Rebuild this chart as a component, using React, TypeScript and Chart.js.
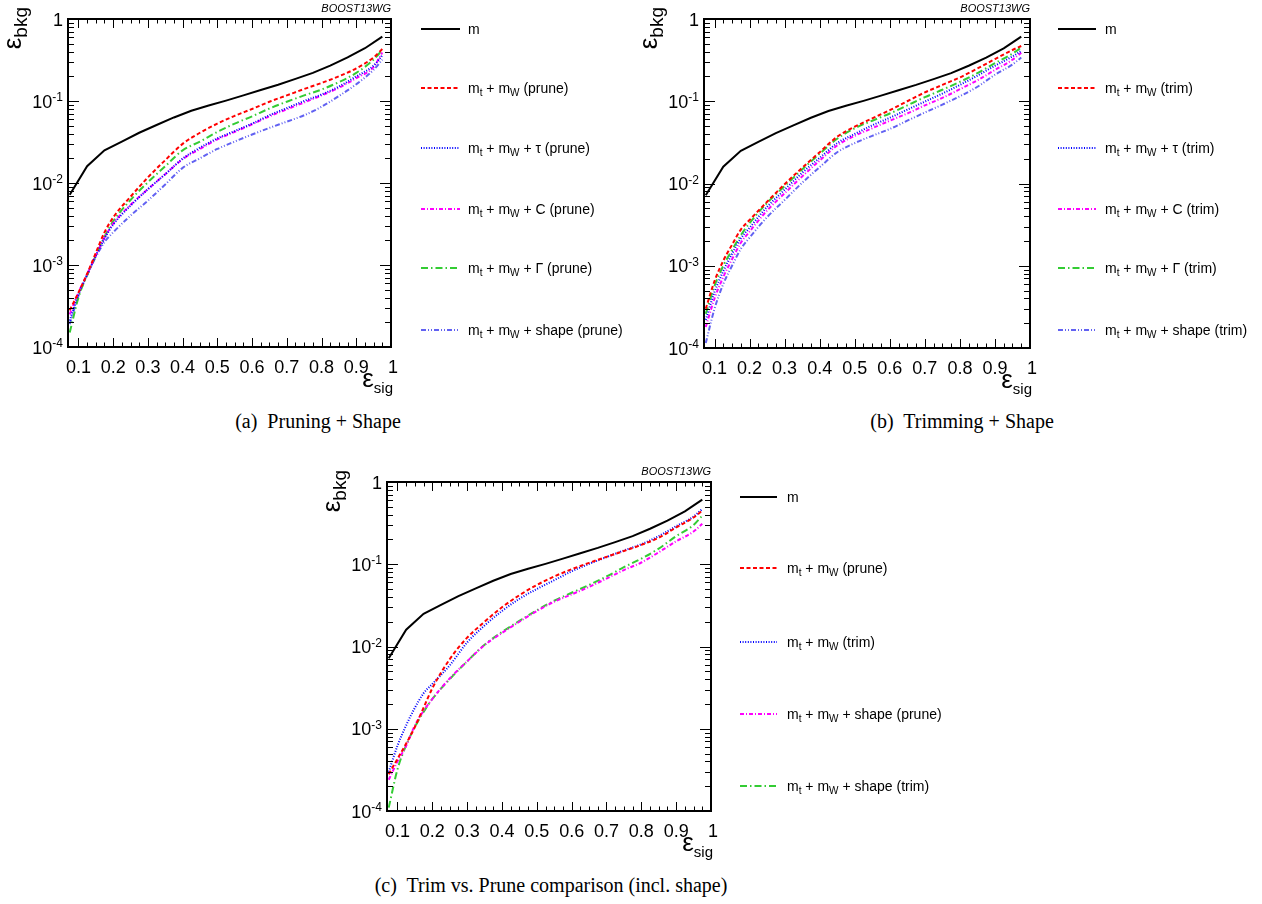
import React, { useEffect, useRef } from "react";
import { Chart, registerables } from "chart.js";
Chart.register(...registerables);

// ---------------- data ----------------
const xMass = [0.075, 0.125, 0.175, 0.225, 0.275, 0.325, 0.375, 0.425, 0.475, 0.525, 0.575, 0.625, 0.675, 0.725, 0.775, 0.825, 0.875, 0.925, 0.975];
const yMass = [0.0072, 0.016, 0.025, 0.032, 0.041, 0.051, 0.063, 0.076, 0.088, 0.101, 0.117, 0.136, 0.158, 0.186, 0.22, 0.27, 0.34, 0.44, 0.61];

const xCurve = [0.075, 0.1, 0.125, 0.15, 0.175, 0.2, 0.25, 0.3, 0.35, 0.4, 0.45, 0.5, 0.55, 0.6, 0.65, 0.7, 0.75, 0.8, 0.85, 0.9, 0.95, 0.975];

// (a) pruning
const aPrune = [2.8e-4, 4.6e-4, 7.8e-4, 1.4e-3, 2.5e-3, 3.8e-3, 6.8e-3, 0.0117, 0.019, 0.030, 0.041, 0.053, 0.066, 0.080, 0.098, 0.117, 0.14, 0.166, 0.20, 0.25, 0.34, 0.43];
const aTau = [2.1e-4, 4.4e-4, 7.6e-4, 1.3e-3, 2.1e-3, 3.1e-3, 5.3e-3, 8.4e-3, 0.0128, 0.0198, 0.027, 0.035, 0.043, 0.053, 0.067, 0.082, 0.10, 0.12, 0.15, 0.20, 0.27, 0.36];
const aC = [2.5e-4, 4.6e-4, 7.7e-4, 1.3e-3, 2.15e-3, 3.2e-3, 5.4e-3, 8.4e-3, 0.0128, 0.0195, 0.026, 0.034, 0.042, 0.052, 0.065, 0.079, 0.096, 0.117, 0.145, 0.19, 0.26, 0.39];
const aGamma = [1.5e-4, 4.0e-4, 7.5e-4, 1.3e-3, 2.2e-3, 3.4e-3, 6.2e-3, 0.0102, 0.016, 0.025, 0.032, 0.042, 0.053, 0.065, 0.081, 0.098, 0.117, 0.138, 0.17, 0.22, 0.32, 0.42];
const aShape = [1.9e-4, 4.2e-4, 7.5e-4, 1.25e-3, 1.9e-3, 2.5e-3, 4.0e-3, 6.1e-3, 9.6e-3, 0.0153, 0.020, 0.026, 0.032, 0.039, 0.047, 0.056, 0.067, 0.085, 0.115, 0.16, 0.24, 0.32];

// (b) trimming
const bTrim = [3.0e-4, 6.5e-4, 1.15e-3, 1.8e-3, 2.75e-3, 3.6e-3, 6.0e-3, 9.8e-3, 0.0155, 0.024, 0.037, 0.049, 0.062, 0.078, 0.10, 0.128, 0.158, 0.195, 0.25, 0.326, 0.42, 0.47];
const bTau = [2.2e-4, 4.8e-4, 8.6e-4, 1.4e-3, 2.15e-3, 2.9e-3, 5.2e-3, 8.4e-3, 0.0135, 0.0205, 0.031, 0.040, 0.051, 0.063, 0.079, 0.099, 0.124, 0.158, 0.205, 0.27, 0.35, 0.41];
const bC = [1.8e-4, 4.0e-4, 7.3e-4, 1.2e-3, 1.9e-3, 2.6e-3, 4.7e-3, 7.6e-3, 0.0122, 0.019, 0.029, 0.038, 0.047, 0.058, 0.071, 0.089, 0.110, 0.140, 0.18, 0.24, 0.32, 0.39];
const bGamma = [2.6e-4, 5.7e-4, 1.0e-3, 1.55e-3, 2.35e-3, 3.3e-3, 5.8e-3, 9.3e-3, 0.0148, 0.023, 0.035, 0.047, 0.058, 0.071, 0.089, 0.112, 0.138, 0.172, 0.22, 0.29, 0.38, 0.45];
const bShape = [1.15e-4, 3.0e-4, 6.0e-4, 1.0e-3, 1.6e-3, 2.2e-3, 3.9e-3, 6.3e-3, 0.0102, 0.0158, 0.024, 0.031, 0.038, 0.046, 0.058, 0.073, 0.091, 0.115, 0.15, 0.21, 0.28, 0.34];

// (c) comparison
const cPrune = [2.8e-4, 4.3e-4, 6.6e-4, 1.05e-3, 1.8e-3, 3.1e-3, 7.0e-3, 0.0128, 0.020, 0.030, 0.042, 0.056, 0.071, 0.087, 0.104, 0.123, 0.145, 0.172, 0.21, 0.28, 0.37, 0.45];
const cTrim = [3.0e-4, 6.2e-4, 1.1e-3, 1.8e-3, 2.7e-3, 3.5e-3, 5.9e-3, 0.0112, 0.018, 0.027, 0.038, 0.050, 0.064, 0.082, 0.101, 0.122, 0.147, 0.175, 0.22, 0.29, 0.38, 0.47];
const cShapePrune = [2.4e-4, 4.0e-4, 6.2e-4, 1.1e-3, 1.65e-3, 2.3e-3, 4.1e-3, 6.6e-3, 0.0104, 0.0146, 0.020, 0.027, 0.035, 0.043, 0.053, 0.067, 0.085, 0.105, 0.14, 0.19, 0.25, 0.31];
const cShapeTrim = [1.1e-4, 3.2e-4, 6.3e-4, 1.05e-3, 1.6e-3, 2.3e-3, 4.0e-3, 6.6e-3, 0.0105, 0.015, 0.0205, 0.0275, 0.036, 0.045, 0.056, 0.071, 0.092, 0.117, 0.155, 0.22, 0.30, 0.39];

const xTickLabels = ["0.1", "0.2", "0.3", "0.4", "0.5", "0.6", "0.7", "0.8", "0.9", "1"];
const yDecades = [-4, -3, -2, -1, 0];

const labelsA = ["m", "m_{t} + m_{W} (prune)", "m_{t} + m_{W} + τ (prune)", "m_{t} + m_{W} + C (prune)", "m_{t} + m_{W} + Γ (prune)", "m_{t} + m_{W} + shape (prune)"];
const labelsB = ["m", "m_{t} + m_{W} (trim)", "m_{t} + m_{W} + τ (trim)", "m_{t} + m_{W} + C (trim)", "m_{t} + m_{W} + Γ (trim)", "m_{t} + m_{W} + shape (trim)"];
const labelsC = ["m", "m_{t} + m_{W} (prune)", "m_{t} + m_{W} (trim)", "m_{t} + m_{W} + shape (prune)", "m_{t} + m_{W} + shape (trim)"];

const captions = ["(a)  Pruning + Shape", "(b)  Trimming + Shape", "(c)  Trim vs. Prune comparison (incl. shape)"];

// ---------------- styles ----------------
const STY: Record<string, { color: string; dash: number[] }> = {
  m: { color: "#000000", dash: [] },
  red: { color: "#ff0000", dash: [4, 2.5] },
  blue: { color: "#0000ff", dash: [1, 1.6] },
  magenta: { color: "#ff00ff", dash: [4, 2, 1, 2] },
  green: { color: "#33cc33", dash: [7, 3, 1.5, 3] },
  shape: { color: "#6262f2", dash: [5, 2, 1, 2, 1, 2] },
};

const FF = "'Liberation Sans', Arial, Helvetica, sans-serif";
const X_MIN = 0.07;

type PanelCfg = {
  left: number; top: number; width: number; height: number;
  pad: { left: number; top: number; right: number; bottom: number };
  series: { ys: number[]; sty: string; mass?: boolean }[];
  labels: string[];
  legX0: number; legX1: number; legText: number; legRows: number[];
};

const panels: PanelCfg[] = [
  {
    left: 0, top: 0, width: 631, height: 400,
    pad: { left: 68, top: 19, right: 240, bottom: 53 },
    series: [
      { ys: yMass, sty: "m", mass: true },
      { ys: aPrune, sty: "red" },
      { ys: aTau, sty: "blue" },
      { ys: aC, sty: "magenta" },
      { ys: aGamma, sty: "green" },
      { ys: aShape, sty: "shape" },
    ],
    labels: labelsA,
    legX0: 421, legX1: 460, legText: 468, legRows: [29, 88, 148, 209, 268, 330],
  },
  {
    left: 631, top: 0, width: 631, height: 400,
    pad: { left: 73, top: 19, right: 232, bottom: 52 },
    series: [
      { ys: yMass, sty: "m", mass: true },
      { ys: bTrim, sty: "red" },
      { ys: bTau, sty: "blue" },
      { ys: bC, sty: "magenta" },
      { ys: bGamma, sty: "green" },
      { ys: bShape, sty: "shape" },
    ],
    labels: labelsB,
    legX0: 427, legX1: 465, legText: 474, legRows: [29, 88, 148, 209, 268, 330],
  },
  {
    left: 300, top: 455, width: 662, height: 410,
    pad: { left: 87, top: 27, right: 251, bottom: 54 },
    series: [
      { ys: yMass, sty: "m", mass: true },
      { ys: cPrune, sty: "red" },
      { ys: cTrim, sty: "blue" },
      { ys: cShapePrune, sty: "magenta" },
      { ys: cShapeTrim, sty: "green" },
    ],
    labels: labelsC,
    legX0: 440, legX1: 477, legText: 487, legRows: [42, 113, 187, 259, 331],
  },
];

// ---------------- drawing helpers ----------------
function drawRich(ctx: CanvasRenderingContext2D, text: string, x: number, y: number, size: number, subSize: number, subDy: number) {
  const parts = text.split(/_\{([^}]*)\}/);
  let cx = x;
  ctx.textAlign = "left";
  ctx.textBaseline = "alphabetic";
  parts.forEach((p, i) => {
    if (!p) return;
    const sub = i % 2 === 1;
    ctx.font = `${sub ? subSize : size}px ${FF}`;
    ctx.fillText(p, cx, y + (sub ? subDy : 0));
    cx += ctx.measureText(p).width;
  });
}

function makeDecor(cfg: PanelCfg) {
  return {
    id: "rootDecor",
    afterDatasetsDraw(chart: any) {
      const ctx: CanvasRenderingContext2D = chart.ctx;
      const a = chart.chartArea;
      const xs = chart.scales.x;
      const ys = chart.scales.y;
      ctx.save();
      ctx.setLineDash([]);
      ctx.strokeStyle = "#000";
      ctx.fillStyle = "#000";
      // frame
      ctx.lineWidth = 2;
      ctx.strokeRect(a.left, a.top, a.right - a.left, a.bottom - a.top);
      // x ticks
      ctx.lineWidth = 1;
      ctx.beginPath();
      for (let i = 4; i <= 40; i++) {
        const v = i * 0.025;
        if (v <= X_MIN || v >= 1.0) continue;
        const px = Math.round(xs.getPixelForValue(v)) + 0.5;
        const major = i % 4 === 0;
        const len = major ? 9 : 4.5;
        ctx.moveTo(px, a.bottom); ctx.lineTo(px, a.bottom - len);
        ctx.moveTo(px, a.top); ctx.lineTo(px, a.top + len);
      }
      // y ticks
      for (const k of yDecades) {
        for (let m = 1; m <= 9; m++) {
          const v = m * Math.pow(10, k);
          if (v > 1.0001) continue;
          const py = Math.round(ys.getPixelForValue(v)) + 0.5;
          const len = m === 1 ? 11 : 6;
          ctx.moveTo(a.left, py); ctx.lineTo(a.left + len, py);
          ctx.moveTo(a.right, py); ctx.lineTo(a.right - len, py);
        }
      }
      ctx.stroke();

      // x labels
      ctx.font = `18px ${FF}`;
      ctx.textAlign = "center";
      ctx.textBaseline = "alphabetic";
      xTickLabels.forEach((t) => {
        const px = xs.getPixelForValue(parseFloat(t));
        ctx.fillText(t, px + (t === "1" ? 2 : 0), a.bottom + 26);
      });
      // y labels
      yDecades.forEach((k) => {
        const py = ys.getPixelForValue(Math.pow(10, k));
        const rx = a.left - 5;
        ctx.textAlign = "left";
        if (k === 0) {
          ctx.font = `18px ${FF}`;
          const w = ctx.measureText("1").width;
          ctx.fillText("1", rx - w, py + 6.5);
        } else {
          ctx.font = `18px ${FF}`;
          const w10 = ctx.measureText("10").width;
          ctx.font = `12px ${FF}`;
          const sup = String(k);
          const ws = ctx.measureText(sup).width;
          const sx = rx - w10 - ws;
          ctx.font = `18px ${FF}`;
          ctx.fillText("10", sx, py + 6.5);
          ctx.font = `12px ${FF}`;
          ctx.fillText(sup, sx + w10, py);
        }
      });

      // axis titles
      ctx.font = `26px ${FF}`;
      const we = ctx.measureText("ε").width;
      ctx.font = `15px ${FF}`;
      const wsig = ctx.measureText("sig").width;
      const xr = a.right + 2;
      ctx.font = `26px ${FF}`;
      ctx.fillText("ε", xr - wsig - we, a.bottom + 40);
      ctx.font = `15px ${FF}`;
      ctx.fillText("sig", xr - wsig, a.bottom + 46);
      ctx.save();
      ctx.translate(a.left - 47, a.top - 12);
      ctx.rotate(-Math.PI / 2);
      ctx.font = `26px ${FF}`;
      const we2 = ctx.measureText("ε").width;
      ctx.font = `19px ${FF}`;
      const wb = ctx.measureText("bkg").width;
      ctx.font = `26px ${FF}`;
      ctx.fillText("ε", -wb - we2, 0);
      ctx.font = `19px ${FF}`;
      ctx.fillText("bkg", -wb, 6);
      ctx.restore();

      // BOOST13WG
      ctx.font = `italic 11px ${FF}`;
      ctx.textAlign = "right";
      ctx.fillText("BOOST13WG", a.right, a.top - 7);

      // legend
      cfg.series.forEach((s, i) => {
        const st = STY[s.sty];
        const y = cfg.legRows[i];
        ctx.save();
        ctx.strokeStyle = st.color;
        ctx.lineWidth = 2;
        ctx.setLineDash(st.dash);
        ctx.beginPath();
        ctx.moveTo(cfg.legX0, y);
        ctx.lineTo(cfg.legX1, y);
        ctx.stroke();
        ctx.restore();
        ctx.fillStyle = "#000";
        drawRich(ctx, cfg.labels[i], cfg.legText, y + 4.5, 14, 10, 3.5);
      });
      ctx.restore();
    },
  };
}

function Panel({ cfg }: { cfg: PanelCfg }) {
  const ref = useRef<HTMLCanvasElement | null>(null);
  useEffect(() => {
    if (!ref.current) return;
    const datasets = cfg.series.map((s, i) => {
      const st = STY[s.sty];
      const xsrc = s.mass ? xMass : xCurve;
      return {
        label: cfg.labels[i],
        data: xsrc.map((x, j) => ({ x, y: s.ys[j] })),
        borderColor: st.color,
        backgroundColor: st.color,
        borderDash: st.dash,
        borderWidth: 2,
        pointRadius: 0,
        fill: false,
        tension: 0,
        cubicInterpolationMode: s.mass ? "default" : "monotone",
      };
    });
    const chart = new Chart(ref.current, {
      type: "line",
      data: { datasets } as any,
      options: {
        animation: false,
        responsive: false,
        maintainAspectRatio: false,
        layout: { padding: cfg.pad },
        plugins: { legend: { display: false }, tooltip: { enabled: false } },
        events: [],
        scales: {
          x: { type: "linear", min: X_MIN, max: 1.0, display: false },
          y: { type: "logarithmic", min: 1e-4, max: 1, display: false },
        },
      } as any,
      plugins: [makeDecor(cfg)],
    });
    return () => chart.destroy();
  }, [cfg]);
  return (
    <canvas
      ref={ref}
      width={cfg.width}
      height={cfg.height}
      style={{ position: "absolute", left: cfg.left, top: cfg.top, width: cfg.width, height: cfg.height }}
    />
  );
}

const capStyle: React.CSSProperties = {
  position: "absolute",
  fontFamily: "'Liberation Serif', 'Times New Roman', serif",
  fontSize: 20,
  lineHeight: "23px",
  whiteSpace: "pre",
  color: "#000",
  transform: "translateX(-50%)",
};

export default function App() {
  return (
    <div style={{ position: "absolute", left: 0, top: 0, width: 1262, height: 904, background: "#fff", overflow: "hidden" }}>
      {panels.map((p, i) => (
        <Panel key={i} cfg={p} />
      ))}
      <div style={{ ...capStyle, left: 318, top: 410 }}>{captions[0]}</div>
      <div style={{ ...capStyle, left: 962, top: 410 }}>{captions[1]}</div>
      <div style={{ ...capStyle, left: 551, top: 874 }}>{captions[2]}</div>
    </div>
  );
}
